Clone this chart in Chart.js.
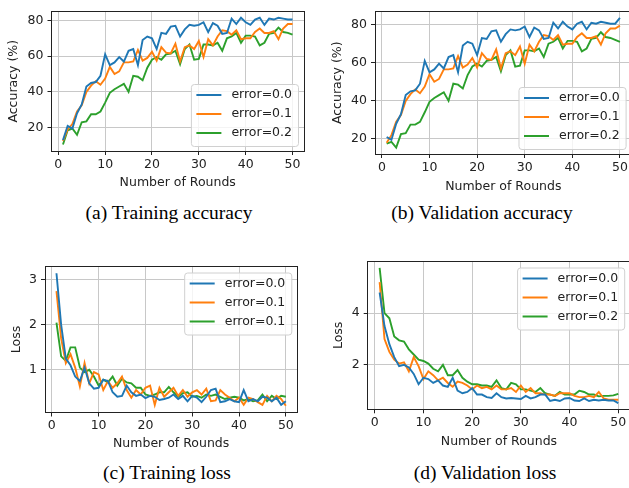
<!DOCTYPE html>
<html>
<head>
<meta charset="utf-8">
<script src="https://cdn.jsdelivr.net/npm/chart.js@4.4.0/dist/chart.umd.min.js"></script>
<style>
  html, body { margin: 0; padding: 0; background: #fff; width: 629px; height: 488px; overflow: hidden; }
  .panel { position: absolute; }
  .cap { position: absolute; font-family: 'Liberation Serif', 'Times New Roman', serif; font-size: 19.5px; color: #000; white-space: nowrap; transform: translate(-50%, -50%); }
</style>
</head>
<body>
<div class="panel" id="pa"><canvas id="ca"></canvas></div>
<div class="panel" id="pb"><canvas id="cb"></canvas></div>
<div class="panel" id="pc"><canvas id="cc"></canvas></div>
<div class="panel" id="pd"><canvas id="cd"></canvas></div>
<div class="cap" style="left:169px;top:213px">(a) Training accuracy</div>
<div class="cap" style="left:482px;top:213px">(b) Validation accuracy</div>
<div class="cap" style="left:167px;top:473px">(c) Training loss</div>
<div class="cap" style="left:485px;top:473px">(d) Validation loss</div>
<script>
// rounds 1..50
const rounds = [1, 2, 3, 4, 5, 6, 7, 8, 9, 10, 11, 12, 13, 14, 15, 16, 17, 18, 19, 20,
  21, 22, 23, 24, 25, 26, 27, 28, 29, 30, 31, 32, 33, 34, 35, 36, 37, 38, 39, 40,
  41, 42, 43, 44, 45, 46, 47, 48, 49, 50];
const roundTicks = [0, 10, 20, 30, 40, 50];

// (a) training accuracy
const trainAcc00 = [13, 21, 19.5, 28, 33, 43, 45, 45.5, 49, 61, 55, 56.5, 59.5, 57, 63, 64, 55, 69, 71, 70,
  64, 73, 72.5, 76.5, 77, 71, 75, 77.5, 77, 77.5, 79, 73.5, 78.5, 77, 72.5, 73, 81, 78, 81.5, 79,
  77.5, 80.5, 81.5, 77.5, 81, 80.5, 81.5, 81, 80.5, 80.5];
const trainAcc01 = [12.5, 19, 22, 29, 32.5, 40, 43.5, 46, 44, 47.5, 54, 50, 51.5, 56.5, 56.5, 57, 63.5, 57.5, 59, 62.5,
  57.5, 65, 62, 61.5, 67, 57, 65, 66, 64, 68.5, 59.5, 69.5, 66, 71, 74.5, 74, 72, 74.5, 69.5, 70,
  70, 73.5, 75.5, 73, 73, 74, 69.5, 75.5, 78, 78];
const trainAcc02 = [10.5, 18.5, 19.5, 16, 23, 23.5, 27.5, 27.5, 29, 34, 39.5, 41.5, 43, 44.5, 40, 49, 48.5, 46.5, 53.5, 58,
  59.5, 58, 61, 61.5, 63, 55.5, 64, 66.5, 58, 58.5, 66.5, 66.5, 66, 67.5, 63, 70, 71, 73, 67.5, 71.5,
  71.5, 71, 66, 67.5, 72.5, 73, 76, 73.5, 73, 72];
const accTicks = [20, 40, 60, 80];

// (b) validation accuracy
const valAcc00 = [21, 19.5, 28, 33, 43, 45, 45.5, 49, 61, 55, 56.5, 59.5, 57, 63, 64, 55, 69, 71, 70, 64,
  73, 72.5, 76.5, 77, 71, 75, 77.5, 77, 77.5, 79, 73.5, 78.5, 77, 72.5, 73, 81, 78, 81.5, 79, 77.5,
  80.5, 81.5, 77.5, 81, 80.5, 81.5, 81, 80.5, 80.5, 83.5];
const valAcc01 = [18, 22, 29, 32.5, 40, 43.5, 46, 44, 47.5, 54, 50, 51.5, 56.5, 56.5, 57, 63.5, 57.5, 59, 62.5, 57.5,
  65, 62, 61.5, 67, 57, 65, 66, 64, 68.5, 59.5, 69.5, 66, 71, 74.5, 74, 72, 74.5, 69.5, 70, 70,
  73.5, 75.5, 73, 73, 74, 69.5, 75.5, 78, 78, 79.5];
const valAcc02 = [17.5, 18.5, 15.5, 22.5, 23, 27.5, 27.5, 29, 34, 39.5, 41.5, 43, 44.5, 40, 49, 48.5, 46.5, 53.5, 58, 59.5,
  58, 61, 61.5, 63, 55.5, 64, 66.5, 58, 58.5, 66.5, 66.5, 66, 67.5, 63, 70, 71, 73, 67.5, 71.5, 71.5,
  71, 66, 67.5, 72.5, 73, 76, 73.5, 73, 72, 71];

// (c) training loss
const trainLoss00 = [3.15, 2.0, 1.25, 1.1, 0.85, 0.75, 1.05, 0.7, 0.58, 0.6, 0.78, 0.75, 0.5, 0.4, 0.42, 0.65, 0.5, 0.42, 0.45, 0.37,
  0.42, 0.4, 0.33, 0.35, 0.38, 0.45, 0.35, 0.42, 0.3, 0.42, 0.38, 0.28, 0.4, 0.55, 0.58, 0.28, 0.3, 0.35, 0.3, 0.28,
  0.55, 0.3, 0.35, 0.3, 0.4, 0.38, 0.3, 0.38, 0.22, 0.3];
const trainLoss01 = [2.75, 1.7, 1.15, 1.35, 1.05, 0.63, 1.15, 0.7, 0.95, 0.9, 0.55, 0.75, 0.6, 0.7, 0.85, 0.55, 0.38, 0.55, 0.45, 0.6,
  0.65, 0.22, 0.6, 0.4, 0.5, 0.6, 0.42, 0.55, 0.4, 0.5, 0.55, 0.45, 0.58, 0.3, 0.32, 0.55, 0.45, 0.38, 0.3, 0.38,
  0.22, 0.38, 0.35, 0.28, 0.22, 0.42, 0.3, 0.42, 0.35, 0.2];
const trainLoss02 = [2.05, 1.3, 1.2, 1.5, 1.5, 1.05, 0.95, 1.0, 0.85, 0.65, 0.78, 0.72, 0.85, 0.65, 0.8, 0.72, 0.7, 0.6, 0.6, 0.45,
  0.42, 0.45, 0.5, 0.5, 0.62, 0.5, 0.4, 0.48, 0.5, 0.4, 0.42, 0.38, 0.45, 0.42, 0.45, 0.4, 0.35, 0.38, 0.4, 0.38,
  0.32, 0.35, 0.3, 0.32, 0.45, 0.3, 0.42, 0.35, 0.42, 0.4];
const trainLossTicks = [1, 2, 3];

// (d) validation loss
const valLoss00 = [4.8, 3.5, 2.8, 2.3, 1.95, 2.0, 1.9, 1.65, 1.25, 1.5, 1.45, 1.3, 1.4, 1.2, 1.15, 1.5, 1.0, 0.9, 0.95, 1.1,
  0.85, 0.85, 0.75, 0.72, 0.9, 0.75, 0.7, 0.72, 0.7, 0.68, 0.8, 0.7, 0.75, 0.85, 0.85, 0.6, 0.65, 0.6, 0.7, 0.72,
  0.62, 0.6, 0.7, 0.6, 0.65, 0.62, 0.65, 0.62, 0.62, 0.52];
const valLoss01 = [5.2, 3.0, 2.5, 2.2, 2.05, 2.1, 1.75, 2.3, 1.95, 1.45, 1.75, 1.6, 1.4, 1.5, 1.3, 1.15, 1.35, 1.3, 1.2, 1.05,
  1.2, 1.1, 1.15, 1.05, 1.2, 1.05, 1.05, 1.1, 0.95, 1.2, 0.95, 1.1, 0.9, 0.9, 0.85, 0.85, 0.8, 0.9, 0.9, 0.9,
  0.8, 0.75, 0.75, 0.8, 0.75, 0.95, 0.7, 0.65, 0.65, 0.65];
const valLoss02 = [5.75, 4.0, 3.8, 3.1, 2.95, 2.9, 2.6, 2.4, 2.2, 2.15, 2.05, 1.85, 1.75, 2.0, 1.6, 1.6, 1.8, 1.5, 1.35, 1.25,
  1.25, 1.2, 1.2, 1.15, 1.4, 1.1, 1.05, 1.3, 1.25, 1.05, 1.05, 1.0, 0.95, 1.1, 0.9, 0.85, 0.8, 0.95, 0.85, 0.85,
  0.85, 1.0, 0.95, 0.85, 0.85, 0.78, 0.8, 0.8, 0.82, 0.88];
const valLossTicks = [2, 4];

const colors = ['#1f77b4', '#ff7f0e', '#2ca02c'];
const TEXT = '#222';

Chart.defaults.font.family = "'DejaVu Sans', sans-serif";
Chart.defaults.font.size = 12.5;
Chart.defaults.color = TEXT;

// matplotlib style: all four spines + legend box inside the axes
const frame = {
  id: 'frame',
  afterDatasetsDraw(chart) {
    const { ctx, chartArea: a } = chart;
    ctx.save();
    ctx.strokeStyle = TEXT;
    ctx.lineWidth = 1;
    ctx.strokeRect(Math.floor(a.left) + 0.5, Math.floor(a.top) + 0.5,
      Math.round(a.right - a.left), Math.round(a.bottom - a.top));
    ctx.restore();
  }
};

const insetLegend = {
  id: 'insetLegend',
  afterDraw(chart, args, opts) {
    const { ctx, chartArea: a } = chart;
    const sets = chart.data.datasets;
    ctx.save();
    ctx.font = "12.5px 'DejaVu Sans'";
    const textW = Math.max(...sets.map(d => ctx.measureText(d.label).width));
    const bw = 40 + textW + 6.5;
    const bh = 62;
    const x = a.right - 5.5 - bw;
    const y = opts.corner === 'upper' ? a.top + 6.5 : a.bottom - 4.5 - bh;
    ctx.beginPath();
    ctx.roundRect(x, y, bw, bh, 3);
    ctx.fillStyle = 'rgba(255,255,255,0.8)';
    ctx.fill();
    ctx.strokeStyle = '#d0d0d0';
    ctx.lineWidth = 1;
    ctx.stroke();
    sets.forEach((d, i) => {
      const ry = y + 10.5 + i * 19;
      ctx.strokeStyle = d.borderColor;
      ctx.lineWidth = 2;
      ctx.beginPath();
      ctx.moveTo(x + 5, ry);
      ctx.lineTo(x + 30, ry);
      ctx.stroke();
      ctx.fillStyle = TEXT;
      ctx.textBaseline = 'middle';
      ctx.fillText(d.label, x + 40, ry);
    });
    ctx.restore();
  }
};

function makePanel(divId, canvasId, g, cfg) {
  const div = document.getElementById(divId);
  div.style.left = g.cx + 'px';
  div.style.top = g.cy + 'px';
  div.style.width = g.w + 'px';
  div.style.height = g.h + 'px';

  const datasets = cfg.series.map((vals, i) => ({
    label: cfg.labels[i],
    data: rounds.map((r, k) => ({ x: r, y: vals[k] })),
    borderColor: colors[i],
    backgroundColor: colors[i],
    borderWidth: 1.9,
    pointRadius: 0,
    tension: 0,
    fill: false
  }));

  const grid = { color: '#c8c8c8', lineWidth: 1, tickColor: TEXT, tickLength: 4, tickWidth: 1 };

  return new Chart(document.getElementById(canvasId), {
    type: 'line',
    data: { datasets },
    options: {
      responsive: true,
      maintainAspectRatio: false,
      animation: false,
      layout: { padding: { top: g.T - g.cy, right: g.cx + g.w - g.R, left: 0, bottom: 0 } },
      plugins: {
        legend: { display: false },
        tooltip: { enabled: false },
        insetLegend: { corner: cfg.corner }
      },
      scales: {
        x: {
          type: 'linear',
          min: -1.45,
          max: 52.45,
          afterBuildTicks: s => { s.ticks = roundTicks.map(v => ({ value: v })); },
          afterFit: s => { s.height = g.cy + g.h - g.B; },
          grid,
          border: { display: false },
          ticks: { padding: 2, maxRotation: 0, autoSkip: false },
          title: { display: true, text: 'Number of Rounds', padding: 0 }
        },
        y: {
          type: 'linear',
          min: cfg.yMin,
          max: cfg.yMax,
          afterBuildTicks: s => { s.ticks = cfg.yTicks.map(v => ({ value: v })); },
          afterFit: s => { s.width = g.L - g.cx; },
          grid,
          border: { display: false },
          ticks: { padding: 4, autoSkip: false },
          title: { display: true, text: cfg.yTitle, padding: 0 }
        }
      }
    },
    plugins: [frame, insetLegend]
  });
}

makePanel('pa', 'ca', { cx: 6, cy: 0, w: 302, h: 190, L: 51.5, T: 4.5, R: 304, B: 151 }, {
  series: [trainAcc00, trainAcc01, trainAcc02],
  labels: ['error=0.0', 'error=0.1', 'error=0.2'],
  yMin: 6.9, yMax: 85, yTicks: accTicks, yTitle: 'Accuracy (%)', corner: 'lower'
});
makePanel('pb', 'cb', { cx: 330, cy: 0, w: 306, h: 194, L: 375, T: 5.3, R: 631.6, B: 154 }, {
  series: [valAcc00, valAcc01, valAcc02],
  labels: ['error=0.0', 'error=0.1', 'error=0.2'],
  yMin: 12.1, yMax: 86.9, yTicks: accTicks, yTitle: 'Accuracy (%)', corner: 'lower'
});
makePanel('pc', 'cc', { cx: 9, cy: 255, w: 293, h: 196, L: 45, T: 265, R: 297.3, B: 412.5 }, {
  series: [trainLoss00, trainLoss01, trainLoss02],
  labels: ['error=0.0', 'error=0.1', 'error=0.1'],
  yMin: 0.05, yMax: 3.3, yTicks: trainLossTicks, yTitle: 'Loss', corner: 'upper'
});
makePanel('pd', 'cd', { cx: 331, cy: 250, w: 304, h: 199, L: 367.7, T: 256.7, R: 630.2, B: 409.3 }, {
  series: [valLoss00, valLoss01, valLoss02],
  labels: ['error=0.0', 'error=0.1', 'error=0.2'],
  yMin: 0.28, yMax: 6.0, yTicks: valLossTicks, yTitle: 'Loss', corner: 'upper'
});
</script>
</body>
</html>
